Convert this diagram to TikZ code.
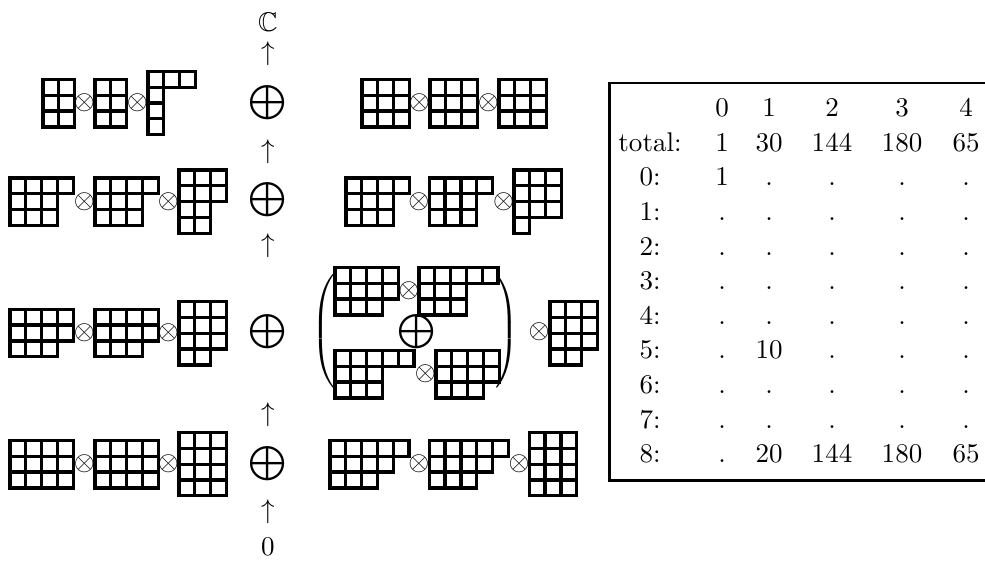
\documentclass[tikz,border=0pt]{standalone}
\usepackage{amssymb}
\usetikzlibrary{positioning}

\newcommand{\cellsz}{15.8}
% Young diagram: top-left corner (#1,#2), row lengths #3
\newcommand{\ydiag}[3]{%
  \foreach \len [count=\r] in {#3}{%
    \foreach \c in {1,...,\len}{%
      \draw[cell] ({#1+(\c-1)*\cellsz},{#2+(\r-1)*\cellsz}) rectangle ++(\cellsz,\cellsz);
    }
  }
}
\newcommand{\bigsum}{\scalebox{1.27}{$\bigoplus$}}

\begin{document}
\begin{tikzpicture}[
  x=0.37pt,y=-0.37pt,
  cell/.style={draw,line width=1.2pt},
  op/.style={inner sep=0pt},
  entry/.style={anchor=base,inner sep=0pt}
]
  \useasboundingbox (0,0) rectangle (985,561);

  % the complex, middle column
  \node[op] (top) at (268,22) {$\mathbb{C}$};
  \node[op] (a1) at (268,54) {$\uparrow$};
  \node[op] (s1) at (268,103) {\bigsum};
  \node[op] (a2) at (268,152) {$\uparrow$};
  \node[op] (s2) at (268,200) {\bigsum};
  \node[op] (a3) at (268,246) {$\uparrow$};
  \node[op] (s3) at (268,332) {\bigsum};
  \node[op] (a4) at (268,415) {$\uparrow$};
  \node[op] (s4) at (268,464) {\bigsum};
  \node[op] (a5) at (268,512) {$\uparrow$};
  \node[op] (bot) at (268,547) {$0$};

  % row 1
  \ydiag{43}{79.5}{2,2,2}
  \node[op] (t11) at (84.5,103) {$\otimes$};
  \ydiag{95}{79.5}{2,2,2}
  \node[op] (t12) at (137.5,103) {$\otimes$};
  \ydiag{148}{71.4}{3,1,1,1}
  \ydiag{362}{79.5}{3,3,3}
  \node[op] (t13) at (419.5,103) {$\otimes$};
  \ydiag{430}{79.5}{3,3,3}
  \node[op] (t14) at (488.5,103) {$\otimes$};
  \ydiag{499}{79.5}{3,3,3}

  % row 2
  \ydiag{10}{178}{4,3,3}
  \node[op] (t21) at (84.5,201.5) {$\otimes$};
  \ydiag{95}{178}{4,3,3}
  \node[op] (t22) at (168.5,201.5) {$\otimes$};
  \ydiag{179}{170}{3,3,2,2}
  \ydiag{346}{178}{4,3,3}
  \node[op] (t23) at (419,201.5) {$\otimes$};
  \ydiag{429.3}{178}{4,3,3}
  \node[op] (t24) at (503.5,201.5) {$\otimes$};
  \ydiag{514}{170}{3,3,3,1}

  % row 3
  \ydiag{10}{309.3}{4,4,3}
  \node[op] (t31) at (84.5,333) {$\otimes$};
  \ydiag{95}{309.3}{4,4,3}
  \node[op] (t32) at (168.5,333) {$\otimes$};
  \ydiag{179}{301.7}{3,3,3,2}
  \node[op] (lp) at (325,331) {$\left(\vcenter{\hrule height 46pt width 0pt}\right.$};
  \ydiag{335}{267.5}{4,4,3}
  \node[op] (t33) at (409,291.2) {$\otimes$};
  \ydiag{419}{267.5}{5,3,3}
  \node[op] (s5) at (417,332) {\bigsum};
  \ydiag{335}{350.5}{5,3,3}
  \node[op] (t34) at (425.5,374.2) {$\otimes$};
  \ydiag{436}{350.5}{4,4,3}
  \node[op] (rp) at (505.5,331) {$\left.\vcenter{\hrule height 46pt width 0pt}\right)$};
  \node[op] (t35) at (539,332) {$\otimes$};
  \ydiag{550}{301.7}{3,3,3,2}

  % row 4
  \ydiag{10}{440.5}{4,4,4}
  \node[op] (t41) at (84.5,464) {$\otimes$};
  \ydiag{95}{440.5}{4,4,4}
  \node[op] (t42) at (168.5,464) {$\otimes$};
  \ydiag{179}{432.6}{3,3,3,3}
  \ydiag{330}{440.5}{5,4,3}
  \node[op] (t43) at (419,464) {$\otimes$};
  \ydiag{429.3}{440.5}{5,4,3}
  \node[op] (t44) at (519,464) {$\otimes$};
  \ydiag{529.3}{432.6}{3,3,3,3}

  % betti table
  \draw[line width=1pt] (985,83) -- (609.5,83) -- (609.5,480.5) -- (985,480.5);
  \foreach \lab/\a/\b/\c/\d/\e [count=\k from 0] in {
      {}/0/1/2/3/4, total:/1/30/144/180/65, 0:/1/./././.,
      1:/./././././, 2:/./././././, 3:/./././././, 4:/./././././,
      5:/./10/./././, 6:/./././././, 7:/./././././, 8:/./20/144/180/65}{
    \node[entry] (l\k) at (650,{116.7+34.6*\k}) {\lab};
    \foreach \x/\v [count=\j] in {722/\a,769/\b,832/\c,902/\d,966/\e}
      \node[entry] (b\k-\j) at (\x,{116.7+34.6*\k}) {\v};
  }
\end{tikzpicture}
\end{document}
